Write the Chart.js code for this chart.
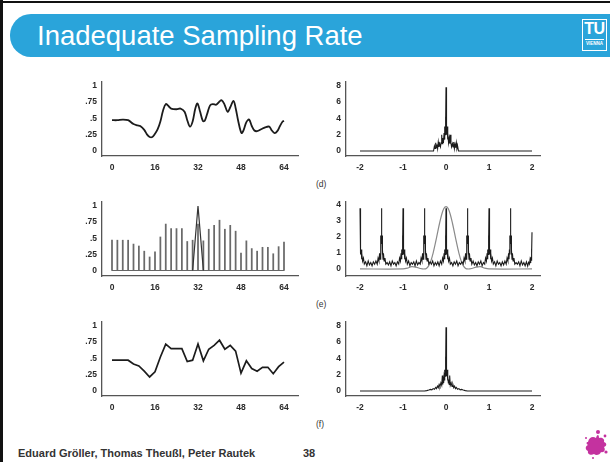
<!DOCTYPE html>
<html>
<head>
<meta charset="utf-8">
<title>Inadequate Sampling Rate</title>
<script src="https://cdn.jsdelivr.net/npm/chart.js@4.4.1/dist/chart.umd.min.js"></script>
<style>
  html, body { margin: 0; padding: 0; background: #fff; }
  body { width: 610px; height: 462px; position: relative; overflow: hidden;
         font-family: "Liberation Sans", Arial, sans-serif; }
  .frame-top { position: absolute; left: 0; top: 1px; width: 610px; height: 2px; background: #111; }
  .frame-left { position: absolute; left: 0; top: 0; width: 3px; height: 462px; background: #111; }
  .bar { position: absolute; left: 10px; top: 14px; width: 600px; height: 43px;
         background: #2aa4da; border-radius: 21px 0 0 21px; }
  .title { position: absolute; left: 37px; top: 22px; font-size: 27.5px; line-height: 28px;
           color: #fff; white-space: nowrap; }
  .tu { position: absolute; left: 582px; top: 19px; width: 23px; height: 30px;
        border: 1px solid #fff; color: #fff; text-align: center; }
  .tu-big { font-weight: bold; font-size: 16px; line-height: 16px; margin-top: 1px; letter-spacing: -0.5px; }
  .tu-rule { width: 19px; height: 1px; background: #fff; margin: 2px auto 0; }
  .tu-small { font-weight: bold; font-size: 4.5px; line-height: 6px; margin-top: 1px; }
  .panel-tag { position: absolute; left: 316px; font-size: 8.5px; color: #333; }
  .footer { position: absolute; left: 18px; top: 447px; font-size: 11px; font-weight: bold;
            color: #333; white-space: nowrap; }
  .page { position: absolute; left: 303px; top: 447px; font-size: 11px; font-weight: bold; color: #333; }
  .splat { position: absolute; left: 582px; top: 428px; }
  canvas { position: absolute; }
</style>
</head>
<body>
<div class="frame-top"></div>
<div class="frame-left"></div>
<div class="bar"></div>
<div class="title">Inadequate Sampling Rate</div>
<div class="tu"><div class="tu-big">TU</div><div class="tu-rule"></div><div class="tu-small">VIENNA</div></div>

<div class="panel-tag" style="top:179px">(d)</div>
<div class="panel-tag" style="top:299px">(e)</div>
<div class="panel-tag" style="top:419px">(f)</div>

<div class="footer">Eduard Gröller, Thomas Theußl, Peter Rautek</div>
<div class="page">38</div>
<svg class="splat" width="28" height="32" viewBox="0 0 28 32">
  <g fill="#c4329f">
    <path d="M6 14 C7 9 11 8 14 10 C15 6 17 6 17 10 C20 9 23 11 22 14 C25 15 25 18 22 19
             C24 22 22 25 19 24 C18 27 14 28 12 26 C9 28 5 26 6 23 C3 22 3 18 6 17 C4 16 4 14 6 14 Z"/>
    <circle cx="16" cy="4" r="2"/>
    <circle cx="23" cy="8" r="1.4"/>
    <circle cx="24" cy="24" r="1.6"/>
    <circle cx="4" cy="10" r="1"/>
    <circle cx="11" cy="30" r="1"/>
  </g>
</svg>

<canvas id="timeSignal"></canvas>
<canvas id="timeSamples"></canvas>
<canvas id="timeRebuilt"></canvas>
<canvas id="specSignal"></canvas>
<canvas id="specSamples"></canvas>
<canvas id="specRebuilt"></canvas>

<script>
// ---- time axis: continuous signal and its samples (every 2 units) ----
const signalCurve = [
  [0,0.47],[2,0.47],[4,0.48],[6,0.47],[8,0.41],[9.5,0.39],[10.5,0.38],[12,0.32],[13,0.25],
  [14,0.21],[15,0.21],[16,0.26],[17,0.33],[18,0.45],[19,0.62],[20,0.72],[21,0.69],[22,0.65],
  [24,0.64],[25.5,0.65],[27,0.6],[28,0.47],[29,0.37],[30,0.45],[31,0.65],[31.8,0.73],
  [32.8,0.6],[33.8,0.46],[34.5,0.46],[35.5,0.58],[36.5,0.7],[37.5,0.72],[38.8,0.71],[40,0.76],
  [40.8,0.78],[41.8,0.72],[43,0.6],[44,0.67],[45.2,0.77],[46,0.66],[47,0.45],[48.2,0.27],
  [49,0.32],[50,0.44],[51,0.48],[52,0.38],[53,0.31],[54,0.3],[55.5,0.33],[57,0.36],[58.5,0.37],
  [59.5,0.31],[60.5,0.27],[61.5,0.3],[62.5,0.38],[63.5,0.45],[64,0.46]
];
const samplePositions = [0,2,4,6,8,10,12,14,16,18,20,22,24,26,28,30,32,34,36,38,40,42,44,46,48,50,52,54,56,58,60,62,64];
const sampleValues = [0.47,0.47,0.47,0.47,0.41,0.38,0.30,0.21,0.29,0.52,0.72,0.65,0.65,0.65,0.45,0.47,
                      0.72,0.46,0.64,0.70,0.78,0.64,0.70,0.61,0.27,0.46,0.34,0.30,0.36,0.36,0.26,0.37,0.44];
const tentKernel = [[30,0],[32,1],[34,0]];

// ---- frequency axis: magnitude spectra ----
const spectrumOriginal = [
  [-2,0],[-0.29,0],[-0.27,0.6],[-0.255,0.3],[-0.24,1.0],[-0.225,0.4],[-0.21,0.8],[-0.195,0.3],
  [-0.18,1.1],[-0.165,0.5],[-0.15,0.9],[-0.13,0.5],[-0.115,1.0],[-0.1,2.0],[-0.09,0.9],[-0.075,1.6],
  [-0.06,1.0],[-0.045,2.2],[-0.035,1.4],[-0.025,3.0],[-0.018,2.0],[-0.012,4.2],[-0.006,3.2],[0,7.8],
  [0.006,3.2],[0.012,4.2],[0.018,2.0],[0.025,3.0],[0.035,1.4],[0.045,2.2],[0.06,1.0],[0.075,1.6],
  [0.09,0.9],[0.1,2.0],[0.115,1.0],[0.13,0.5],[0.15,0.9],[0.165,0.5],[0.18,1.1],[0.195,0.3],
  [0.21,0.8],[0.225,0.4],[0.24,1.0],[0.255,0.3],[0.27,0.6],[0.29,0],[2,0]
];
const spectrumRebuilt = [
  [-2,0],[-0.5,0],[-0.45,0.05],[-0.4,0.12],[-0.36,0.2],[-0.33,0.15],[-0.3,0.3],[-0.27,0.22],
  [-0.24,0.45],[-0.22,0.3],[-0.2,0.6],[-0.18,0.4],[-0.16,0.8],[-0.14,0.55],[-0.12,1.0],[-0.1,0.7],
  [-0.085,1.9],[-0.075,0.8],[-0.065,1.4],[-0.055,1.0],[-0.045,1.8],[-0.035,1.3],[-0.025,2.6],
  [-0.018,1.8],[-0.012,4.2],[-0.006,3.0],[0,7.8],[0.006,3.0],[0.012,4.2],[0.018,1.8],[0.025,2.6],
  [0.035,1.3],[0.045,1.8],[0.055,1.0],[0.065,1.4],[0.075,0.8],[0.085,1.9],[0.1,0.7],[0.12,1.0],
  [0.14,0.55],[0.16,0.8],[0.18,0.4],[0.2,0.6],[0.22,0.3],[0.24,0.45],[0.27,0.22],[0.3,0.3],
  [0.33,0.15],[0.36,0.2],[0.4,0.12],[0.45,0.05],[0.5,0],[2,0]
];
// aliased spectrum of the samples: replicas every 0.5
const replicaCentres = [-2,-1.5,-1,-0.5,0,0.5,1,1.5,2];
const replicaHeights = [3.8,3.8,3.8,3.8,3.8,3.8,3.8,3.8,2.3];
const replicaOffsets = [-0.1,-0.08,-0.06,-0.045,-0.035,-0.025,-0.018,-0.012,-0.006,0,
                        0.006,0.012,0.018,0.025,0.035,0.045,0.06,0.08,0.1];
const replicaShape   = [0.08,0.18,0.13,0.26,0.16,0.32,0.24,0.55,0.42,1,
                        0.42,0.55,0.24,0.32,0.16,0.26,0.13,0.18,0.08];
const gapOffsets = [0.13,0.16,0.19,0.22,0.25,0.28,0.31,0.34,0.37];
const gapNoise = [
  [0.45,0.2,0.5,0.25,0.4,0.2,0.45,0.3,0.5],
  [0.4,0.25,0.45,0.2,0.5,0.3,0.4,0.2,0.45],
  [0.5,0.2,0.4,0.3,0.45,0.2,0.5,0.25,0.4],
  [0.45,0.3,0.5,0.2,0.4,0.25,0.45,0.2,0.5],
  [0.4,0.2,0.45,0.3,0.5,0.2,0.4,0.3,0.45],
  [0.5,0.25,0.4,0.2,0.45,0.3,0.5,0.2,0.4],
  [0.45,0.2,0.5,0.3,0.4,0.2,0.45,0.25,0.5],
  [0.4,0.3,0.45,0.2,0.5,0.25,0.4,0.2,0.45]
];
// transform of the linear-interpolation (tent) filter
const tentSpectrum = [
  [-2,0],[-1,0],[-0.9,0.05],[-0.8,0.15],[-0.7,0.12],[-0.6,0.03],[-0.5,0],[-0.45,0.05],[-0.4,0.21],
  [-0.35,0.52],[-0.3,0.99],[-0.25,1.58],[-0.2,2.23],[-0.15,2.86],[-0.1,3.41],[-0.05,3.78],[0,3.9],
  [0.05,3.78],[0.1,3.41],[0.15,2.86],[0.2,2.23],[0.25,1.58],[0.3,0.99],[0.35,0.52],[0.4,0.21],
  [0.45,0.05],[0.5,0],[0.6,0.03],[0.7,0.12],[0.8,0.15],[0.9,0.05],[1,0],[2,0]
];

// ---- tick marks ----
const timeTicks = [0,16,32,48,64];
const timeTickLabels = ['0','16','32','48','64'];
const ampTicks = [0,0.25,0.5,0.75,1];
const ampTickLabels = ['0','.25','.5','.75','1'];
const freqTicks = [-2,-1,0,1,2];
const freqTickLabels = ['-2','-1','0','1','2'];
const magTicks = [0,2,4,6,8];
const magTickLabels = ['0','2','4','6','8'];
const aliasTicks = [0,1,2,3,4];
const aliasTickLabels = ['0','1','2','3','4'];

// ---- build the aliased spectrum from the replica table ----
const spectrumSampled = [];
replicaCentres.forEach((c, i) => {
  replicaOffsets.forEach((o, k) => {
    const x = c + o;
    if (x >= -2 && x <= 2) spectrumSampled.push([x, replicaHeights[i] * replicaShape[k]]);
  });
  if (i < gapNoise.length) {
    gapOffsets.forEach((o, k) => spectrumSampled.push([c + o, gapNoise[i][k]]));
  }
});

const pts = arr => arr.map(([x, y]) => ({ x, y }));
const INK = '#1c1c1c';
const TICK_FONT = { family: 'Liberation Sans', size: 8.5, weight: 'bold' };

function scale(min, max, ticks, labels, horizontal, size, pad) {
  return {
    type: 'linear', min, max, offset: false,
    grid: { display: false, drawTicks: false },
    border: { display: true, color: '#555', width: 1.3 },
    afterBuildTicks: s => { s.ticks = ticks.map(v => ({ value: v })); },
    afterFit: s => { if (horizontal) s.height = size; else s.width = size; },
    ticks: {
      autoSkip: false, maxRotation: 0, padding: pad, color: '#2a2a2a', font: TICK_FONT,
      callback: (v, i) => labels[i]
    }
  };
}

function place(id, left, top, width, height) {
  const c = document.getElementById(id);
  c.width = width; c.height = height;
  c.style.left = left + 'px'; c.style.top = top + 'px';
  c.style.width = width + 'px'; c.style.height = height + 'px';
  return c;
}

function plot(id, left, top, width, padRight, yAxisWidth, xs, ys, datasets) {
  const canvas = place(id, left, top, width, 106);
  return new Chart(canvas, {
    type: 'line',
    data: { datasets },
    options: {
      responsive: false, animation: false, devicePixelRatio: 1,
      layout: { padding: { top: 12, right: padRight, left: 0, bottom: 0 } },
      plugins: { legend: { display: false }, tooltip: { enabled: false } },
      elements: { point: { radius: 0 } },
      scales: {
        x: scale(xs[0], xs[1], xs[2], xs[3], true, 20, 7),
        y: scale(ys[0], ys[1], ys[2], ys[3], false, yAxisWidth, 5)
      }
    }
  });
}

const timeX = [-3.72, 69.21, timeTicks, timeTickLabels];
const ampY = [-0.085, 1.062, ampTicks, ampTickLabels];
const freqX = [-2.326, 2.186, freqTicks, freqTickLabels];
const magY = [-0.61, 8.45, magTicks, magTickLabels];
const aliasY = [-0.44, 4.19, aliasTicks, aliasTickLabels];

// (d) continuous signal and its spectrum
plot('timeSignal', 70, 70, 240, 12, 32, timeX, ampY, [
  { data: pts(signalCurve), borderColor: INK, borderWidth: 1.8, tension: 0.35 }
]);
plot('specSignal', 315, 70, 235, 10, 31, freqX, magY, [
  { data: pts(spectrumOriginal), borderColor: INK, borderWidth: 1.1, tension: 0 }
]);

// (e) samples with the tent filter, and the aliased spectrum
plot('timeSamples', 70, 190, 240, 12, 32, timeX, ampY, [
  { data: pts(tentKernel), borderColor: '#333', borderWidth: 1.2, tension: 0 },
  { data: [{ x: samplePositions[0], y: 0 }, { x: samplePositions[samplePositions.length - 1], y: 0 }],
    borderColor: '#666', borderWidth: 1.2 },
  { type: 'bar', data: samplePositions.map((x, i) => ({ x, y: sampleValues[i] })),
    backgroundColor: '#6a6a6a', barThickness: 1.1, grouped: false }
]);
plot('specSamples', 315, 190, 235, 10, 31, freqX, aliasY, [
  { data: pts(spectrumSampled), borderColor: INK, borderWidth: 1.1, tension: 0 },
  { data: pts(tentSpectrum), borderColor: '#8a8a8a', borderWidth: 1.2, tension: 0.3 }
]);

// (f) linear reconstruction and its spectrum
plot('timeRebuilt', 70, 310, 240, 12, 32, timeX, ampY, [
  { data: samplePositions.map((x, i) => ({ x, y: sampleValues[i] })), borderColor: INK, borderWidth: 1.7, tension: 0 }
]);
plot('specRebuilt', 315, 310, 235, 10, 31, freqX, magY, [
  { data: pts(spectrumRebuilt), borderColor: INK, borderWidth: 1.1, tension: 0 }
]);
</script>
</body>
</html>
